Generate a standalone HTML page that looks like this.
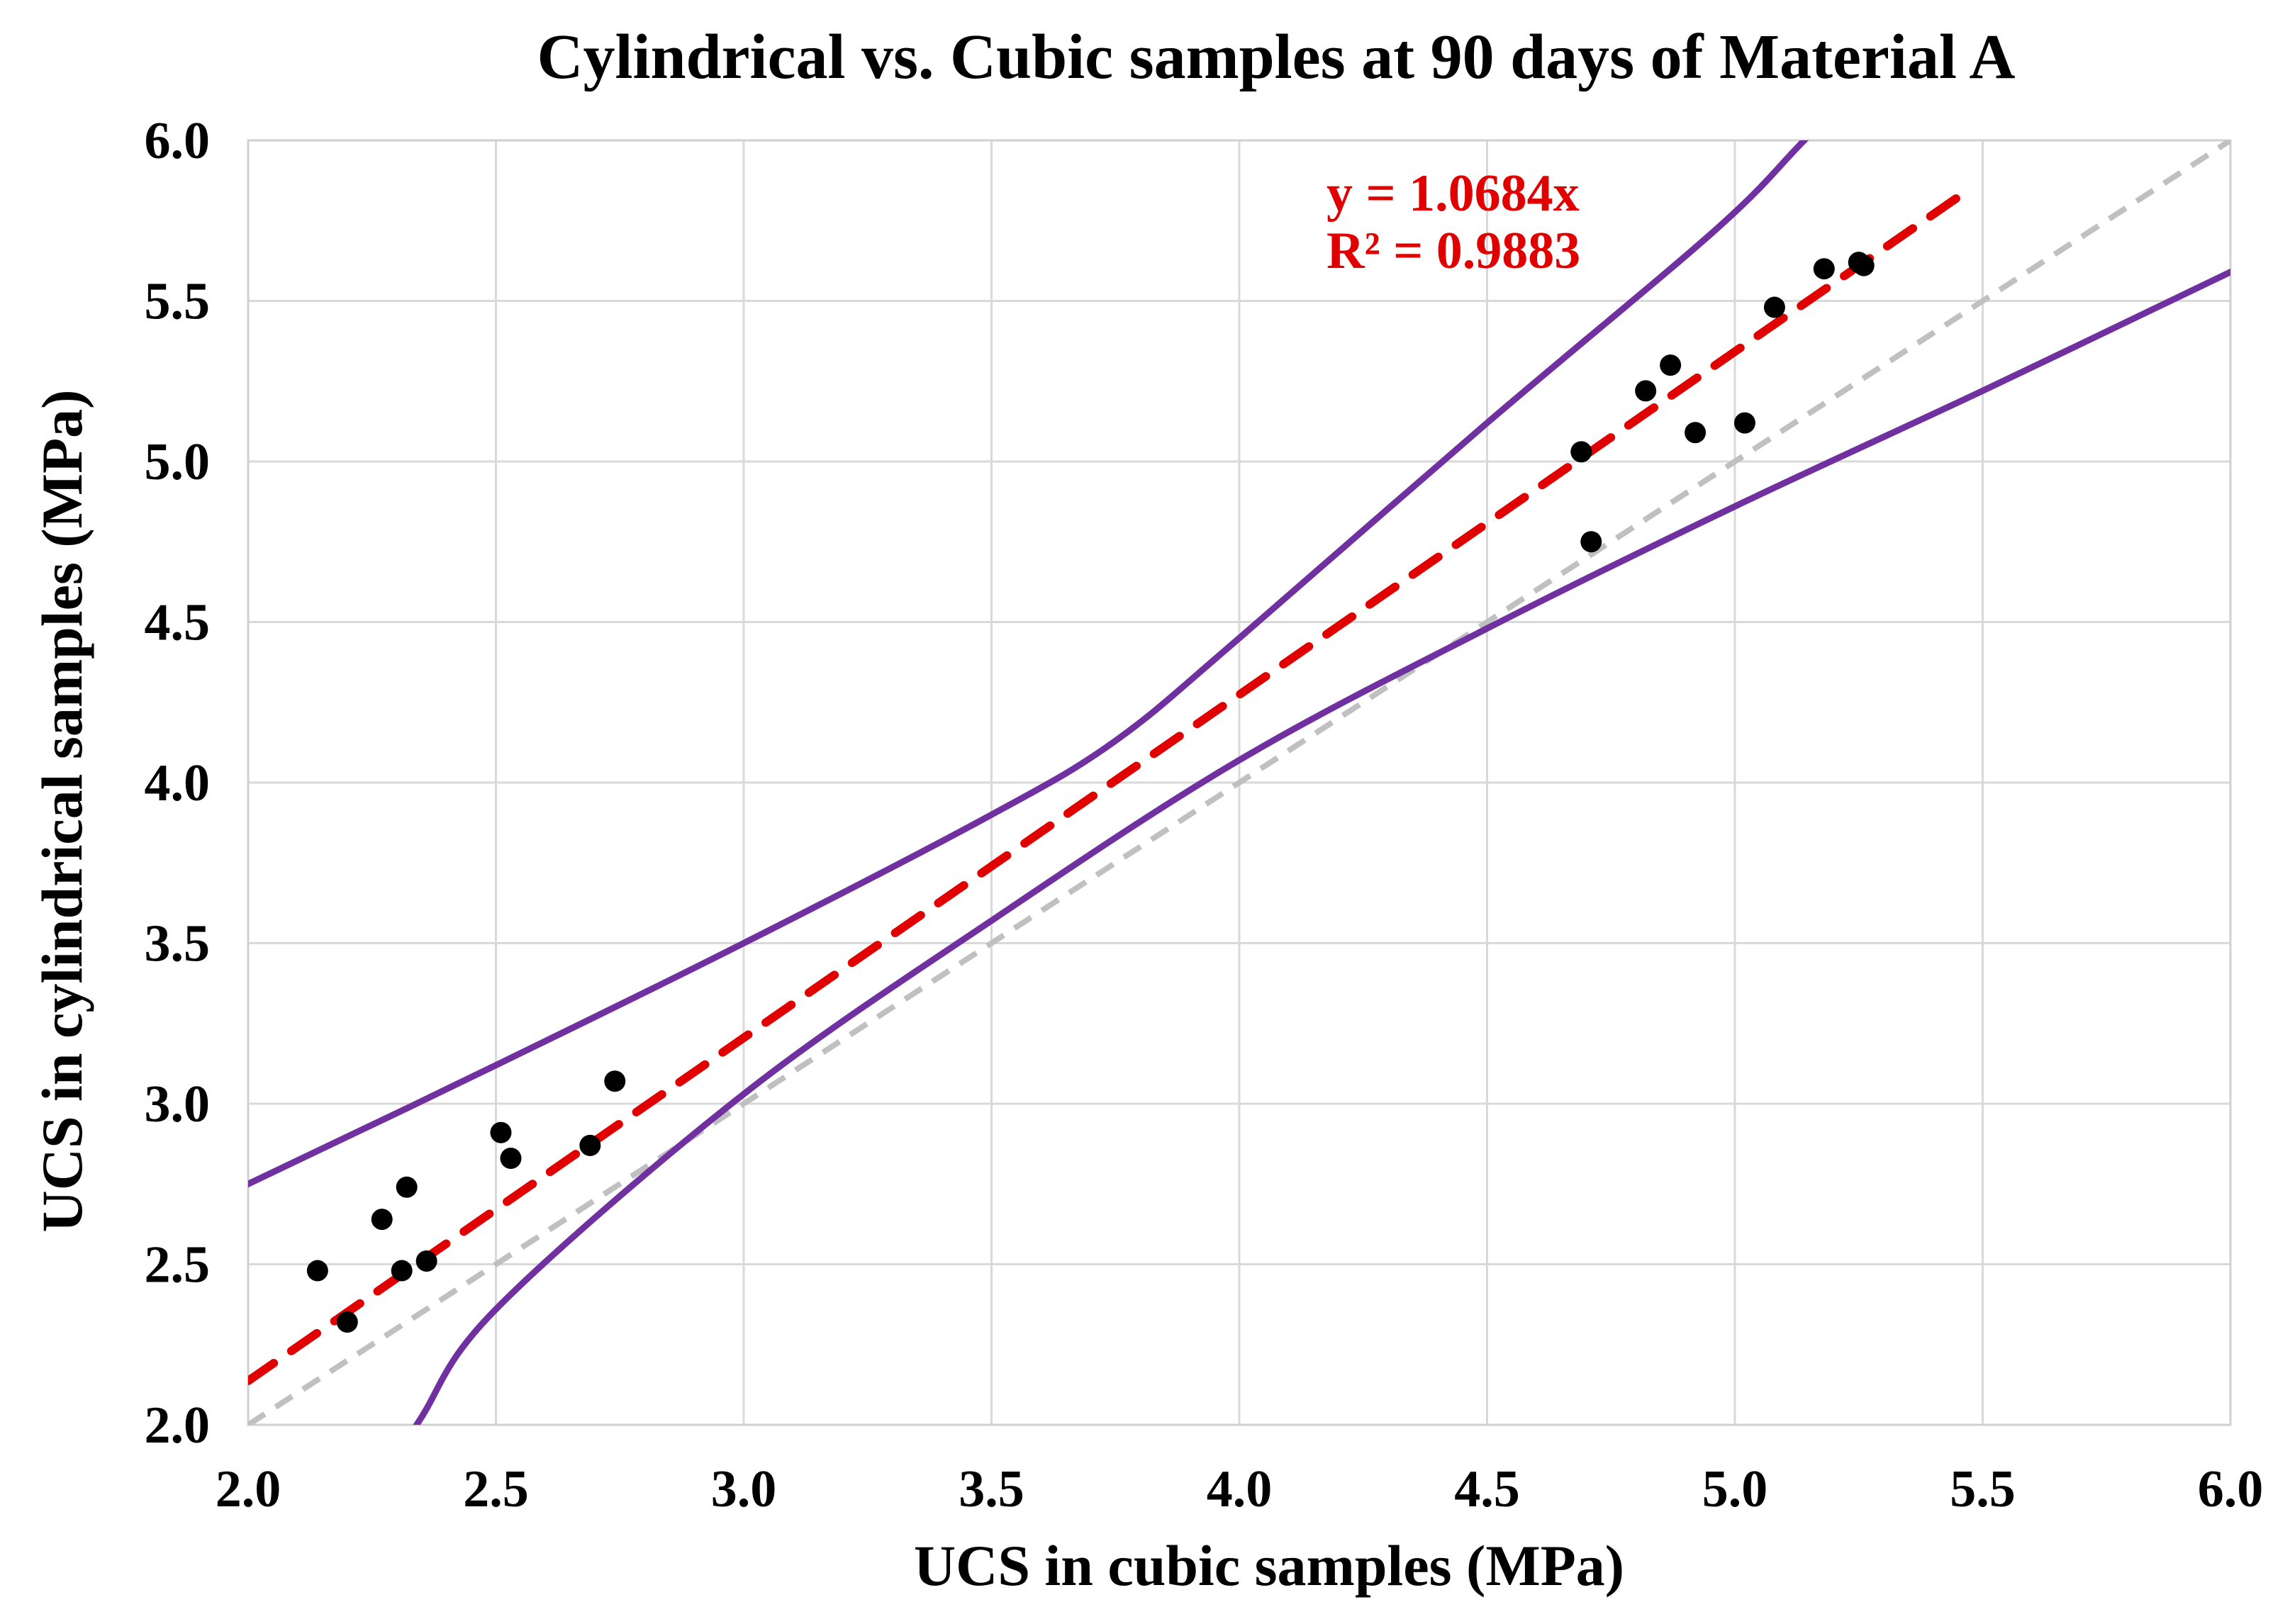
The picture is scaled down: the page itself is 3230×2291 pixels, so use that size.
<!DOCTYPE html>
<html><head><meta charset="utf-8"><style>
html,body{margin:0;padding:0;background:#fff}
svg{display:block;font-family:"Liberation Serif",serif;font-weight:bold}
</style></head><body>
<svg id="chart" width="3230" height="2291" viewBox="0 0 3230 2291" xmlns="http://www.w3.org/2000/svg">
<text x="1800" y="110" font-size="90" text-anchor="middle">Cylindrical vs. Cubic samples at 90 days of Material A</text>
<g id="grid"></g>
<g id="marks"></g>
<text x="1790" y="2236" font-size="82" text-anchor="middle">UCS in cubic samples (MPa)</text>
<text transform="translate(115,1144) rotate(-90)" font-size="82" text-anchor="middle">UCS in cylindrical samples (MPa)</text>
<text x="1871" y="297" font-size="74" fill="#e00000">y = 1.0684x</text>
<text x="1871" y="378" font-size="74" fill="#e00000">R² = 0.9883</text>
</svg>
<script>
const xTicks=[2.0,2.5,3.0,3.5,4.0,4.5,5.0,5.5,6.0];
const yTicks=[2.0,2.5,3.0,3.5,4.0,4.5,5.0,5.5,6.0];
const cubicUCS=[2.14,2.20,2.27,2.32,2.31,2.36,2.51,2.53,2.69,2.74,4.69,4.71,4.82,4.87,4.92,5.02,5.08,5.18,5.25,5.26];
const cylUCS=[2.48,2.32,2.64,2.74,2.48,2.51,2.91,2.83,2.87,3.07,5.03,4.75,5.22,5.30,5.09,5.12,5.48,5.60,5.62,5.61];
const slope=1.0684;
const trendRange=[2.0,5.48];
const upperX=[1.9,2.0,2.5,3.0,3.5,3.75,4.0,4.5,4.96,5.14,5.3];
const upperY=[2.69,2.75,3.12,3.50,3.90,4.13,4.45,5.12,5.72,6.0,6.25];
const lowerX=[2.2,2.34,2.5,3.0,3.5,4.0,4.5,5.0,5.5,6.0,6.1];
const lowerY=[1.68,2.0,2.36,3.03,3.57,4.07,4.48,4.86,5.22,5.59,5.66];

const L=350,R=3146,T=198,B=2010;
const sx=v=>L+(v-2)/(6-2)*(R-L);
const sy=v=>B-(v-2)/(6-2)*(B-T);
const NS="http://www.w3.org/2000/svg";
const grid=document.getElementById('grid'),marks=document.getElementById('marks');
function mk(tag,attrs,parent){const e=document.createElementNS(NS,tag);for(const k in attrs)e.setAttribute(k,attrs[k]);parent.appendChild(e);return e;}
function smooth(xs,ys){
  const p=xs.map((x,i)=>[sx(x),sy(ys[i])]);
  let d='M'+p[0][0]+','+p[0][1];
  for(let i=0;i<p.length-1;i++){
    const p0=p[Math.max(0,i-1)],p1=p[i],p2=p[i+1],p3=p[Math.min(p.length-1,i+2)];
    const c1=[p1[0]+(p2[0]-p0[0])/6,p1[1]+(p2[1]-p0[1])/6];
    const c2=[p2[0]-(p3[0]-p1[0])/6,p2[1]-(p3[1]-p1[1])/6];
    d+=' C'+c1[0]+','+c1[1]+' '+c2[0]+','+c2[1]+' '+p2[0]+','+p2[1];
  }
  return d;
}
xTicks.forEach(t=>{
  const l=mk('line',{x1:sx(t),x2:sx(t),y1:T,y2:B,stroke:'#d9d9d9','stroke-width':3},grid);
  
  
  const tx=mk('text',{x:sx(t),y:2125,'font-size':74,'text-anchor':'middle'},grid);
  tx.textContent=t.toFixed(1);
  
  
});
yTicks.forEach(t=>{
  const l=mk('line',{x1:L,x2:R,y1:sy(t),y2:sy(t),stroke:'#d9d9d9','stroke-width':3},grid);
  
  
  const tx=mk('text',{x:296,y:sy(t)+25,'font-size':74,'text-anchor':'end'},grid);
  tx.textContent=t.toFixed(1);
  
  
});
const ax=mk('rect',{x:L,y:T,width:R-L,height:B-T,fill:'none',stroke:'#d0d0d0','stroke-width':3},grid);


const clip=mk('clipPath',{id:'pc'},marks);mk('rect',{x:L,y:T,width:R-L,height:B-T},clip);
const g=mk('g',{'clip-path':'url(#pc)'},marks);
const id=mk('line',{x1:sx(2),y1:sy(2),x2:sx(6),y2:sy(6),stroke:'#c0c0c0','stroke-width':8,'stroke-dasharray':'28 18'},g);


const up=mk('path',{d:smooth(upperX,upperY),fill:'none',stroke:'#7030a0','stroke-width':9},g);


const lo=mk('path',{d:smooth(lowerX,lowerY),fill:'none',stroke:'#7030a0','stroke-width':9},g);


const tr=mk('line',{x1:sx(trendRange[0]),y1:sy(slope*trendRange[0]),x2:sx(trendRange[1]),y2:sy(slope*trendRange[1]),stroke:'#e00000','stroke-width':12,'stroke-dasharray':'44 30','stroke-linecap':'round'},g);


cubicUCS.forEach((x,i)=>{
  const c=mk('circle',{cx:sx(x),cy:sy(cylUCS[i]),r:15,fill:'#000'},marks);
  
  
});
</script>
</body></html>
